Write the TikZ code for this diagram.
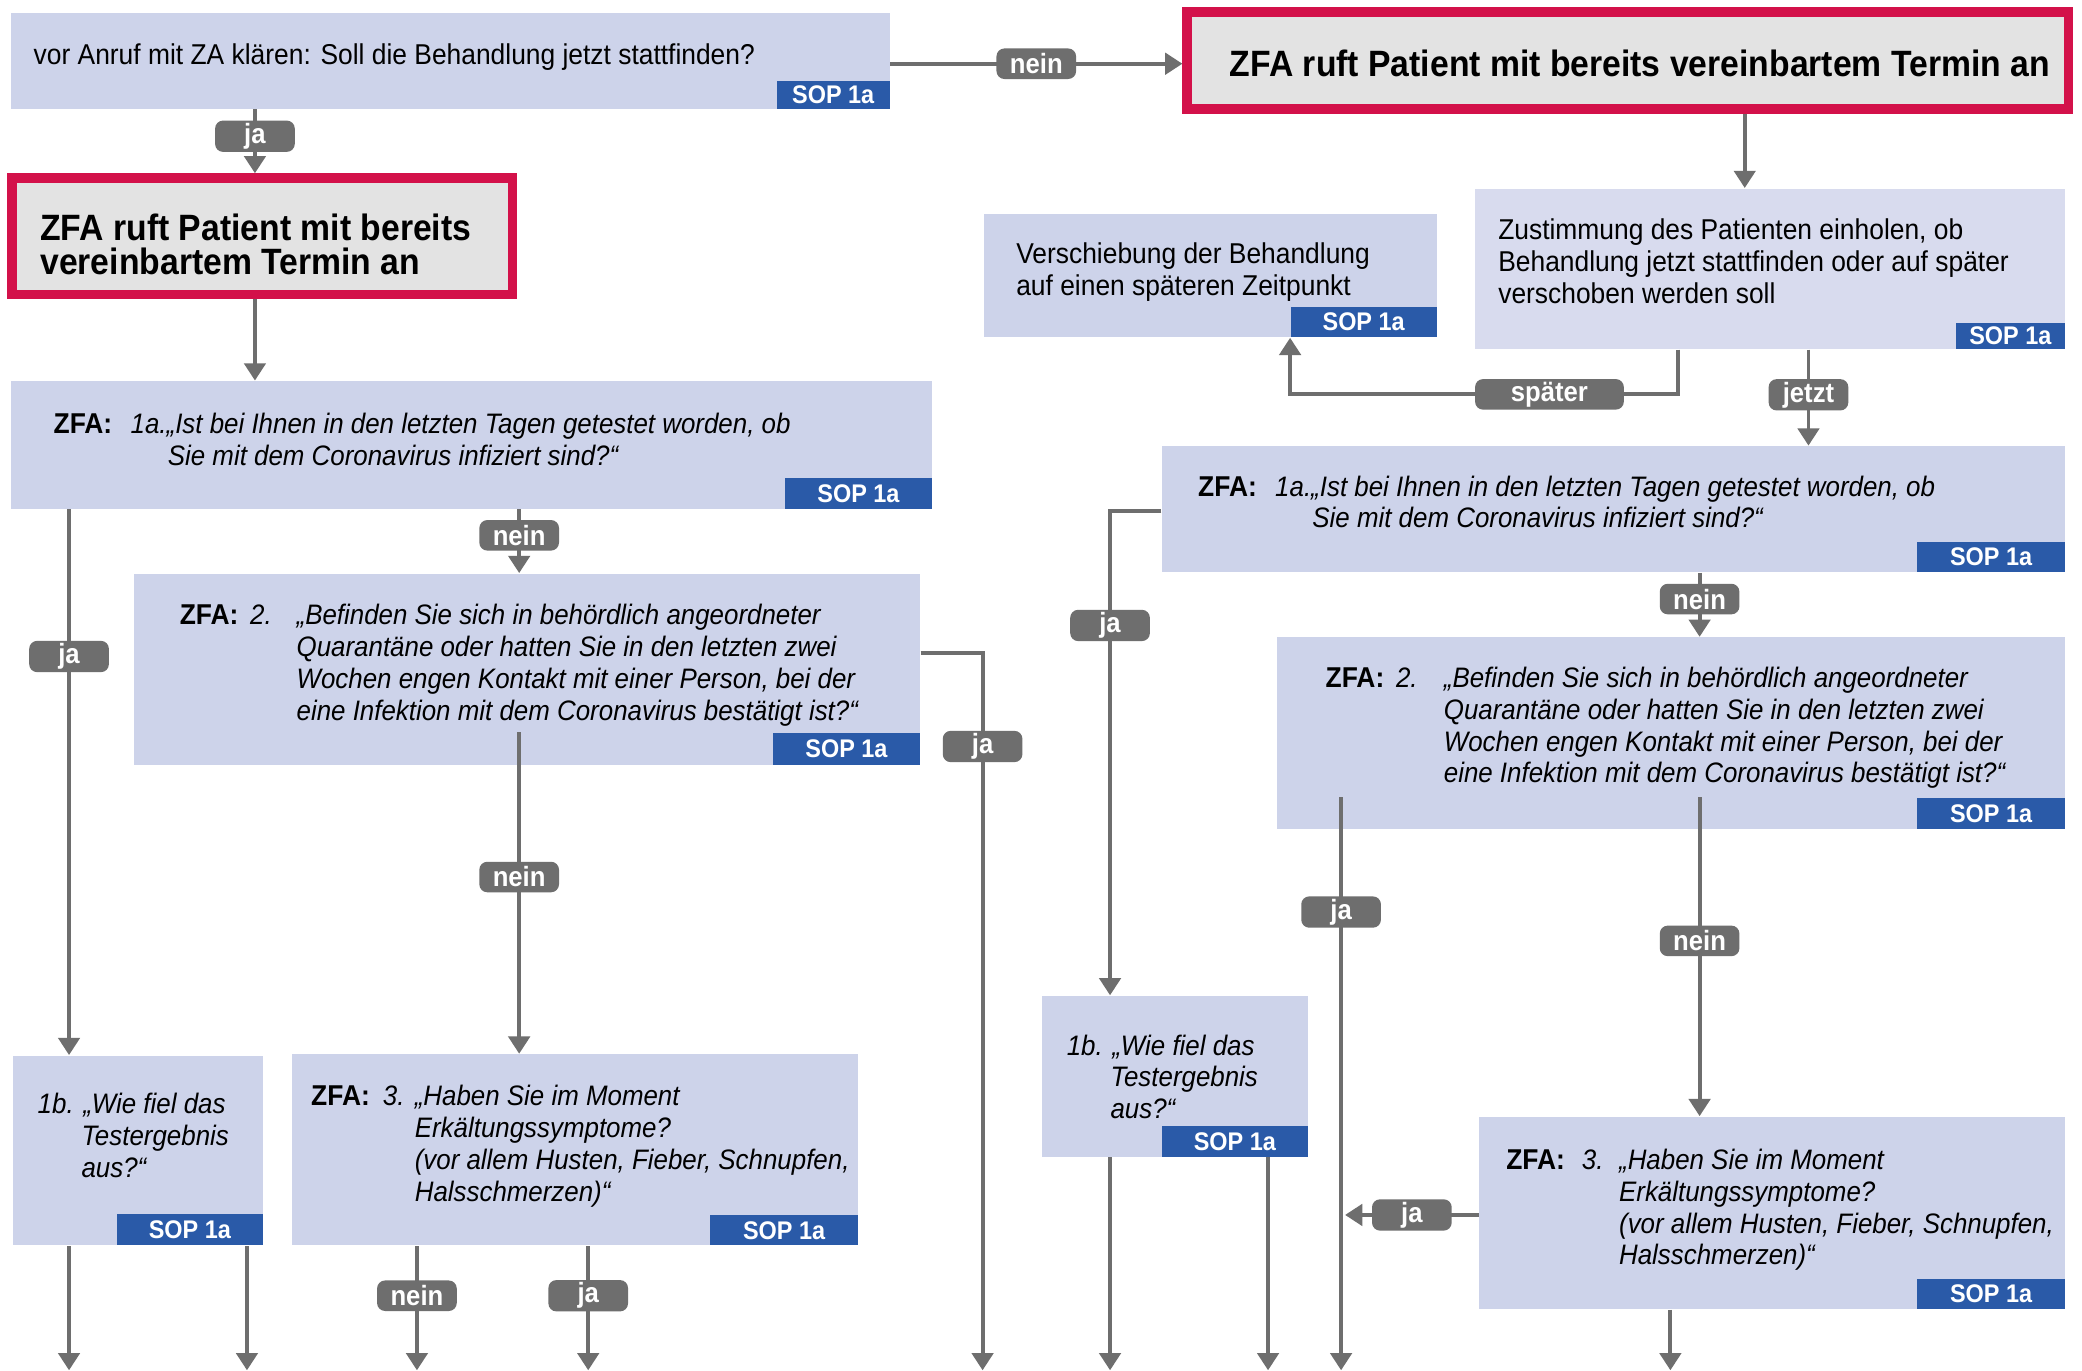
\documentclass[tikz,border=0pt]{standalone}
\usepackage{fontspec}
\setmainfont{Liberation Sans}[FakeStretch=0.92]
\usetikzlibrary{arrows.meta,fit,calc}
\definecolor{boxfill}{HTML}{CDD3EA}
\definecolor{boxlight}{HTML}{D8DBEE}
\definecolor{sopblue}{HTML}{2A5AA8}
\definecolor{redframe}{HTML}{D3114A}
\definecolor{redfill}{HTML}{E3E3E3}
\definecolor{conn}{HTML}{6E6E6E}
\begin{document}
\begin{tikzpicture}[x=0.5pt,y=-0.5pt,
  box/.style={fill=boxfill, inner sep=0pt, draw=none},
  lbox/.style={fill=boxlight, inner sep=0pt, draw=none},
  sop/.style={fill=sopblue, inner sep=0pt, draw=none},
  soptx/.style={anchor=center, inner sep=0pt, text=white, font=\fontsize{9.6}{10}\selectfont\bfseries},
  redbox/.style={fill=redfill, draw=redframe, line width=3.5pt, inner sep=0pt},
  txt/.style={anchor=west, inner sep=0pt, text height=7.6pt, text depth=2pt, font=\fontsize{10.8}{12}\selectfont},
  itx/.style={txt, font=\fontsize{10.6}{12}\selectfont\itshape},
  btx/.style={txt, font=\fontsize{10.8}{12}\selectfont\bfseries},
  bigtx/.style={anchor=west, inner sep=0pt, font=\fontsize{13.8}{14}\selectfont\bfseries},
  con/.style={draw=conn, line width=1.5pt},
  arr/.style={con, -{Triangle[width=8pt,length=6.5pt]}},
  pill/.style={fill=conn, rounded corners=3pt, text=white, font=\fontsize{10.5}{11}\selectfont\bfseries, minimum width=30pt, minimum height=11.5pt, inner sep=1pt}
]
\fill[white] (0,0) rectangle (1568,1032);
\useasboundingbox (0,0) rectangle (1568,1032);

% ---------- top row ----------
\node[box, fit={(8,10) (670,82)}] (q0) {};
\node[sop, fit={(585,61) (670,82)}] (q0s) {};
\node[soptx] (q0st) at (q0s.center) {SOP 1a};
\node[txt] (q0t) at (25,43) {vor Anruf mit ZA klären: Soll die Behandlung jetzt stattfinden?};

\node[redbox, fit={(894,9) (1558,82)}] (rR) {};
\node[anchor=center, inner sep=0pt, font=\fontsize{13.8}{14}\selectfont\bfseries] (rRt) at (1235,48) {ZFA ruft Patient mit bereits vereinbartem Termin an};

\node[redbox, fit={(9,134) (386,222)}] (rL) {};
\node[bigtx] (rLt1) at (30,171) {ZFA ruft Patient mit bereits};
\node[bigtx] (rLt2) at (30,197) {vereinbartem Termin an};

% ---------- left column ----------
\node[box, fit={(8,287) (702,383)}] (A1L) {};
\node[sop, fit={(591,360) (702,383)}] (A1Ls) {};
\node[soptx] (A1Lst) at (A1Ls.center) {SOP 1a};
\node[btx] (A1Lz) at (40,321) {ZFA:};
\node[itx] (A1L1) at (98,321) {1a.„Ist bei Ihnen in den letzten Tagen getestet worden, ob};
\node[itx] (A1L2) at (126,345) {Sie mit dem Coronavirus infiziert sind?“};

\node[box, fit={(101,432) (693,576)}] (A2L) {};
\node[sop, fit={(582,552) (693,576)}] (A2Ls) {};
\node[soptx] (A2Lst) at (A2Ls.center) {SOP 1a};
\node[btx] (A2Lz) at (135,465) {ZFA:};
\node[itx] (A2Ln) at (188,465) {2.};
\node[itx] (A2L1) at (223,465) {„Befinden Sie sich in behördlich angeordneter};
\node[itx] (A2L2) at (223,489) {Quarantäne oder hatten Sie in den letzten zwei};
\node[itx] (A2L3) at (223,513) {Wochen engen Kontakt mit einer Person, bei der};
\node[itx] (A2L4) at (223,537) {eine Infektion mit dem Coronavirus bestätigt ist?“};

\node[box, fit={(10,795) (198,938)}] (B1L) {};
\node[sop, fit={(88,914) (198,938)}] (B1Ls) {};
\node[soptx] (B1Lst) at (B1Ls.center) {SOP 1a};
\node[itx] (B1L1) at (28,833) {1b. „Wie fiel das};
\node[itx] (B1L2) at (61,857) {Testergebnis};
\node[itx] (B1L3) at (61,881) {aus?“};

\node[box, fit={(220,794) (646,938)}] (B3L) {};
\node[sop, fit={(535,915) (646,938)}] (B3Ls) {};
\node[soptx] (B3Lst) at (B3Ls.center) {SOP 1a};
\node[btx] (B3Lz) at (234,827) {ZFA:};
\node[itx] (B3Ln) at (288,827) {3.};
\node[itx] (B3L1) at (312,827) {„Haben Sie im Moment};
\node[itx] (B3L2) at (312,851) {Erkältungssymptome?};
\node[itx] (B3L3) at (312,875) {(vor allem Husten, Fieber, Schnupfen,};
\node[itx] (B3L4) at (312,899) {Halsschmerzen)“};

% ---------- right column ----------
\node[lbox, fit={(1111,142) (1555,263)}] (Z) {};
\node[sop, fit={(1473,243) (1555,263)}] (Zs) {};
\node[soptx] (Zst) at (Zs.center) {SOP 1a};
\node[txt] (Z1) at (1128,175) {Zustimmung des Patienten einholen, ob};
\node[txt] (Z2) at (1128,199) {Behandlung jetzt stattfinden oder auf später};
\node[txt] (Z3) at (1128,223) {verschoben werden soll};

\node[box, fit={(741,161) (1082,254)}] (V) {};
\node[sop, fit={(972,231) (1082,254)}] (Vs) {};
\node[soptx] (Vst) at (Vs.center) {SOP 1a};
\node[txt] (V1) at (765,193) {Verschiebung der Behandlung};
\node[txt] (V2) at (765,217) {auf einen späteren Zeitpunkt};

\node[box, fit={(875,336) (1555,431)}] (A1R) {};
\node[sop, fit={(1444,408) (1555,431)}] (A1Rs) {};
\node[soptx] (A1Rst) at (A1Rs.center) {SOP 1a};
\node[btx] (A1Rz) at (902,368) {ZFA:};
\node[itx] (A1R1) at (960,368) {1a.„Ist bei Ihnen in den letzten Tagen getestet worden, ob};
\node[itx] (A1R2) at (988,392) {Sie mit dem Coronavirus infiziert sind?“};

\node[box, fit={(962,480) (1555,624)}] (A2R) {};
\node[sop, fit={(1444,601) (1555,624)}] (A2Rs) {};
\node[soptx] (A2Rst) at (A2Rs.center) {SOP 1a};
\node[btx] (A2Rz) at (998,512) {ZFA:};
\node[itx] (A2Rn) at (1051,512) {2.};
\node[itx] (A2R1) at (1087,512) {„Befinden Sie sich in behördlich angeordneter};
\node[itx] (A2R2) at (1087,536) {Quarantäne oder hatten Sie in den letzten zwei};
\node[itx] (A2R3) at (1087,560) {Wochen engen Kontakt mit einer Person, bei der};
\node[itx] (A2R4) at (1087,584) {eine Infektion mit dem Coronavirus bestätigt ist?“};

\node[box, fit={(785,750) (985,871)}] (B1R) {};
\node[sop, fit={(875,848) (985,871)}] (B1Rs) {};
\node[soptx] (B1Rst) at (B1Rs.center) {SOP 1a};
\node[itx] (B1R1) at (803,789) {1b. „Wie fiel das};
\node[itx] (B1R2) at (836,813) {Testergebnis};
\node[itx] (B1R3) at (836,837) {aus?“};

\node[box, fit={(1114,841) (1555,986)}] (B3R) {};
\node[sop, fit={(1444,963) (1555,986)}] (B3Rs) {};
\node[soptx] (B3Rst) at (B3Rs.center) {SOP 1a};
\node[btx] (B3Rz) at (1134,875) {ZFA:};
\node[itx] (B3Rn) at (1191,875) {3.};
\node[itx] (B3R1) at (1219,875) {„Haben Sie im Moment};
\node[itx] (B3R2) at (1219,899) {Erkältungssymptome?};
\node[itx] (B3R3) at (1219,923) {(vor allem Husten, Fieber, Schnupfen,};
\node[itx] (B3R4) at (1219,947) {Halsschmerzen)“};

% ---------- free ends ----------
\coordinate (e52) at (52,1032);
\coordinate (e186) at (186,1032);
\coordinate (e314) at (314,1032);
\coordinate (e443) at (443,1032);
\coordinate (e740) at (740,1032);
\coordinate (e836) at (836,1032);
\coordinate (e955) at (955,1032);
\coordinate (e1010) at (1010,1032);
\coordinate (e1258) at (1258,1032);
\coordinate (jl) at (1013,915);

% ---------- connectors ----------
\draw[arr] (q0.east |- 0,48) -- node[pill]{nein} (rR.west |- 0,48);
\draw[arr] (q0.south -| 192,0) -- node[pill, pos=0.42]{ja} (rL.north -| 192,0);
\draw[arr] (rL.south -| 192,0) -- (A1L.north -| 192,0);

\draw[arr] (A1L.south -| 52,0) -- node[pill, pos=0.27]{ja} (B1L.north -| 52,0);
\draw[arr] (A1L.south -| 391,0) -- node[pill, pos=0.41]{nein} (A2L.north -| 391,0);
\draw[arr] (A2L.east |- 0,492) -| node[pill, pos=0.565]{ja} (e740);
\draw[arr] (A2Ls.north -| 391,0) -- node[pill, pos=0.45]{nein} (B3L.north -| 391,0);
\draw[arr] (B1L.south -| 52,0) -- (e52);
\draw[arr] (B1L.south -| 186,0) -- (e186);
\draw[arr] (B3L.south -| 314,0) -- node[pill, pos=0.4]{nein} (e314);
\draw[arr] (B3L.south -| 443,0) -- node[pill, pos=0.4]{ja} (e443);

\draw[arr] (rR.south -| 1314,0) -- (Z.north -| 1314,0);
\draw[arr] (Z.south -| 1264,0) |- node[pill, pos=0.666, minimum width=56pt]{später} (Vs.south west |- 0,297) -- (Vs.south west);
\draw[arr] (Z.south -| 1362,0) -- node[pill, pos=0.47]{jetzt} (A1R.north -| 1362,0);
\draw[arr] (A1R.west |- 0,385) -| node[pill, pos=0.618]{ja} (B1R.north -| 836,0);
\draw[arr] (A1R.south -| 1280,0) -- node[pill, pos=0.41]{nein} (A2R.north -| 1280,0);
\draw[arr] (A2Rs.north -| 1010,0) -- node[pill, pos=0.2]{ja} (e1010);
\draw[arr] (A2Rs.north -| 1280,0) -- node[pill, pos=0.45]{nein} (B3R.north -| 1280,0);
\draw[arr] (B1R.south -| 836,0) -- (e836);
\draw[arr] (B1R.south -| 955,0) -- (e955);
\draw[arr] (B3R.west |- 0,915) -- node[pill, pos=0.5]{ja} (jl);
\draw[arr] (B3R.south -| 1258,0) -- (e1258);
\end{tikzpicture}
\end{document}
